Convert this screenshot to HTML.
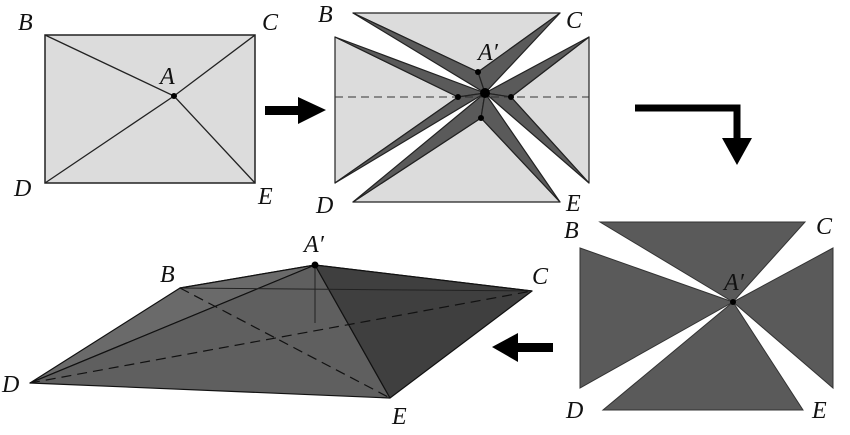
<!DOCTYPE html>
<html><head><style>
body{margin:0;background:#fff}
text{font-family:"Liberation Serif",serif;font-style:italic;font-size:24px;fill:#111}
</style></head><body>
<svg width="850" height="430" viewBox="0 0 850 430" xmlns="http://www.w3.org/2000/svg">
<!-- panel 1 -->
<rect x="45" y="35" width="210" height="148" fill="#dcdcdc" stroke="#222" stroke-width="1.5"/>
<polyline points="45,35 174,96 255,183" fill="none" stroke="#222" stroke-width="1.3"/>
<polyline points="255,35 174,96 45,183" fill="none" stroke="#222" stroke-width="1.3"/>
<circle cx="174" cy="96" r="3" fill="#000"/>
<text x="18" y="30">B</text><text x="262" y="30">C</text><text x="14" y="196">D</text><text x="258" y="204">E</text><text x="160" y="84">A</text>
<!-- arrow 1 -->
<rect x="265" y="106" width="36" height="9" fill="#000"/><polygon points="298,97 326,110 298,124" fill="#000"/>
<!-- panel 2 -->
<g stroke="#222" stroke-width="1.2" stroke-linejoin="round">
<polygon points="353,13 560,13 478,72" fill="#dcdcdc"/>
<polygon points="335,37 335,183 458,97" fill="#dcdcdc"/>
<polygon points="589,37 589,183 511,97" fill="#dcdcdc"/>
<polygon points="353,202 560,202 481,118" fill="#dcdcdc"/>
<g fill="#5a5a5a">
<polygon points="353,13 478,72 485,93"/><polygon points="560,13 478,72 485,93"/>
<polygon points="335,37 458,97 485,93"/><polygon points="335,183 458,97 485,93"/>
<polygon points="589,37 511,97 485,93"/><polygon points="589,183 511,97 485,93"/>
<polygon points="353,202 481,118 485,93"/><polygon points="560,202 481,118 485,93"/>
</g></g>
<line x1="335" y1="97" x2="589" y2="97" stroke="#333" stroke-width="1" stroke-dasharray="8,5"/>
<g fill="#000"><circle cx="478" cy="72" r="3"/><circle cx="458" cy="97" r="3"/><circle cx="511" cy="97" r="3"/><circle cx="481" cy="118" r="3"/><circle cx="485" cy="93" r="5"/></g>
<text x="318" y="22">B</text><text x="566" y="28">C</text><text x="316" y="213">D</text><text x="566" y="211">E</text><text x="478" y="60">A′</text>
<!-- arrow 2 -->
<polyline points="635,108 737,108 737,140" fill="none" stroke="#000" stroke-width="7"/>
<polygon points="722,138 752,138 737,165" fill="#000"/>
<!-- panel 3 -->
<g fill="#5a5a5a" stroke="#333" stroke-width="1">
<polygon points="600,222 805,222 733,302"/><polygon points="580,248 580,388 733,302"/>
<polygon points="833,248 833,388 733,302"/><polygon points="603,410 803,410 733,302"/>
</g>
<circle cx="733" cy="302" r="3" fill="#000"/>
<text x="564" y="238">B</text><text x="816" y="234">C</text><text x="566" y="418">D</text><text x="812" y="418">E</text><text x="724" y="290">A′</text>
<!-- arrow 3 -->
<rect x="515" y="343" width="38" height="9" fill="#000"/><polygon points="518,333 492,347 518,362" fill="#000"/>
<!-- panel 4 -->
<g stroke="#111" stroke-width="1.2" stroke-linejoin="round">
<polygon points="315,265 180,288 532,291" fill="#727272"/>
<polygon points="315,265 180,288 30,383" fill="#6a6a6a"/>
<polygon points="315,265 30,383 390,398" fill="#5f5f5f"/>
<polygon points="315,265 390,398 532,291" fill="#3f3f3f"/>
</g>
<line x1="180" y1="288" x2="532" y2="291" stroke="#222" stroke-width="1"/>
<line x1="315" y1="265" x2="315" y2="323" stroke="#222" stroke-width="1"/>
<line x1="30" y1="383" x2="532" y2="291" stroke="#111" stroke-width="1.2" stroke-dasharray="10,6"/>
<line x1="180" y1="288" x2="390" y2="398" stroke="#111" stroke-width="1.2" stroke-dasharray="10,6"/>
<circle cx="315" cy="265" r="3.5" fill="#000"/>
<text x="160" y="282">B</text><text x="532" y="284">C</text><text x="2" y="392">D</text><text x="392" y="424">E</text><text x="304" y="252">A′</text>
</svg>
</body></html>
